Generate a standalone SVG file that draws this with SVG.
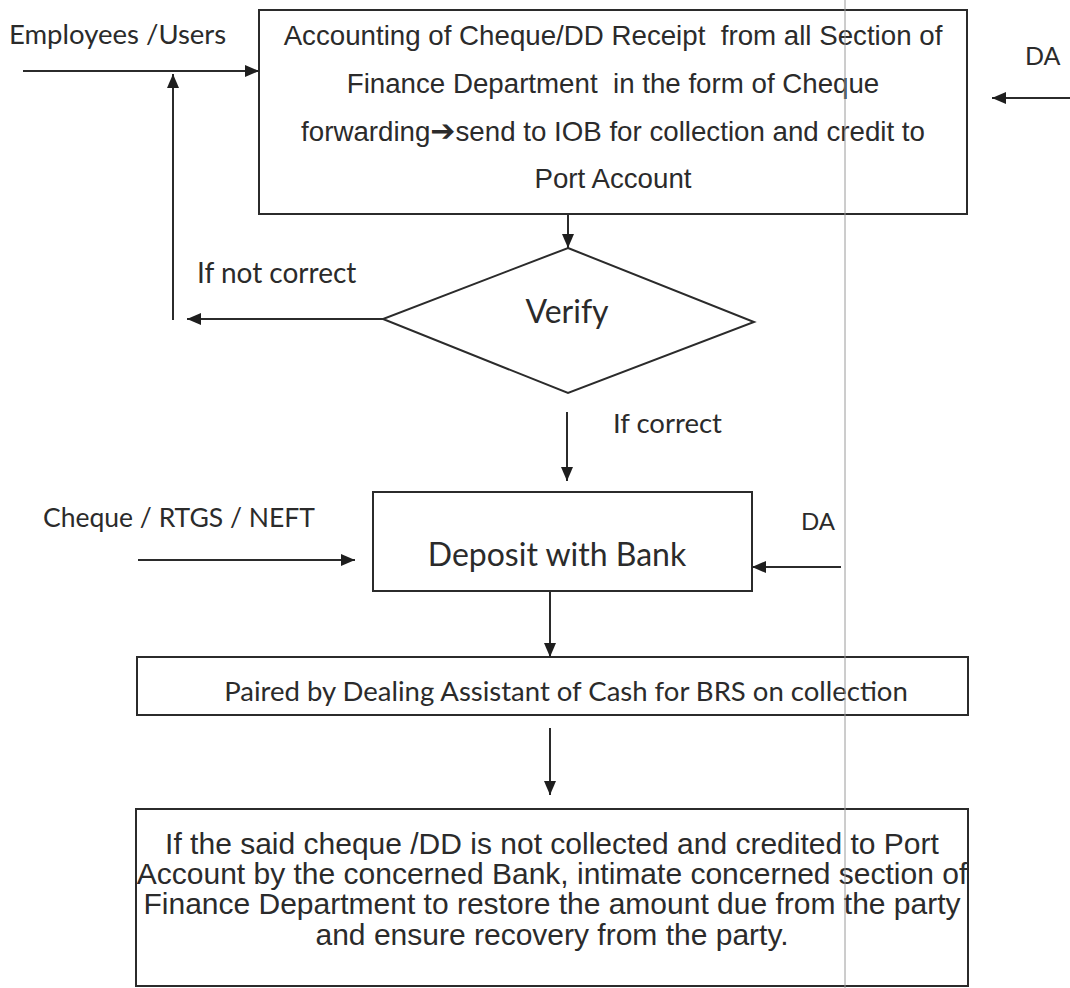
<svg xmlns="http://www.w3.org/2000/svg" width="1070" height="988" viewBox="0 0 1070 988">
  <style>
    .box { fill: #ffffff; stroke: #2b2b2b; stroke-width: 2; }
    .edge { fill: none; stroke: #2b2b2b; stroke-width: 2; }
    .arial { font-family: "Liberation Sans", Arial, sans-serif; fill: #2b2b2b; white-space: pre; }
    .cal { font-family: Lato, "Open Sans", sans-serif; fill: #2b2b2b; white-space: pre; }
    .mid { text-anchor: middle; }
  </style>
  <defs>
    <marker id="head" viewBox="0 0 14 12" refX="14" refY="6" markerWidth="14" markerHeight="12" markerUnits="userSpaceOnUse" orient="auto">
      <path d="M0,0 L14,6 L0,12 Z" fill="#1e1e1e"/>
    </marker>
  </defs>
  <rect width="1070" height="988" fill="#ffffff"/>

  <!-- free labels -->
  <text class="cal" x="9" y="44" font-size="27.5">Employees /Users</text>
  <text class="cal" x="1025" y="65" font-size="25">DA</text>
  <text class="cal" x="197" y="283" font-size="28">If not correct</text>
  <text class="cal" x="613" y="433" font-size="27.5">If correct</text>
  <text class="cal" x="43" y="527" font-size="26.5">Cheque / RTGS / NEFT</text>
  <text class="cal" x="801" y="530" font-size="24">DA</text>

  <g id="accounting">
    <rect class="box" x="259" y="10" width="708" height="204"/>
    <text class="arial mid" x="613" y="45" font-size="27.7">Accounting of Cheque/DD Receipt  from all Section of</text>
    <text class="arial mid" x="613" y="93" font-size="27.7">Finance Department  in the form of Cheque</text>
    <text class="arial mid" x="613" y="141" font-size="27.7">forwarding<tspan font-family="DejaVu Sans, sans-serif" font-size="30">➔</tspan>send to IOB for collection and credit to</text>
    <text class="arial mid" x="613" y="188" font-size="27.7">Port Account</text>
  </g>

  <g id="verify">
    <polygon class="box" points="568,248 754,322 568,393 383,319"/>
    <text class="cal mid" x="567" y="323" font-size="32">Verify</text>
  </g>

  <g id="deposit">
    <rect class="box" x="373" y="492" width="379" height="99"/>
    <text class="cal mid" x="557" y="566" font-size="32">Deposit with Bank</text>
  </g>

  <g id="paired">
    <rect class="box" x="137" y="657" width="831" height="58"/>
    <text class="cal mid" x="566" y="701" font-size="27.5">Paired by Dealing Assistant of Cash for BRS on collection</text>
  </g>

  <g id="recovery">
    <rect class="box" x="136" y="809" width="832" height="177"/>
    <text class="arial mid" x="552" y="854" font-size="30">If the said cheque /DD is not collected and credited to Port</text>
    <text class="arial mid" x="552" y="884" font-size="30">Account by the concerned Bank, intimate concerned section of</text>
    <text class="arial mid" x="552" y="914" font-size="30">Finance Department to restore the amount due from the party</text>
    <text class="arial mid" x="552" y="945" font-size="30">and ensure recovery from the party.</text>
  </g>

  <g id="connectors">
    <line class="edge" x1="23" y1="71" x2="259" y2="71" marker-end="url(#head)"/>
    <line class="edge" x1="173" y1="320" x2="173" y2="74" marker-end="url(#head)"/>
    <line class="edge" x1="1070" y1="98" x2="992" y2="98" marker-end="url(#head)"/>
    <line class="edge" x1="568" y1="214" x2="568" y2="248" marker-end="url(#head)"/>
    <line class="edge" x1="383" y1="319" x2="187" y2="319" marker-end="url(#head)"/>
    <line class="edge" x1="567" y1="412" x2="567" y2="481" marker-end="url(#head)"/>
    <line class="edge" x1="138" y1="560" x2="355" y2="560" marker-end="url(#head)"/>
    <line class="edge" x1="841" y1="567" x2="752" y2="567" marker-end="url(#head)"/>
    <line class="edge" x1="550" y1="591" x2="550" y2="657" marker-end="url(#head)"/>
    <line class="edge" x1="550" y1="728" x2="550" y2="795" marker-end="url(#head)"/>
  </g>

  <!-- page fold line running down the whole sheet, over the boxes -->
  <line x1="845" y1="0" x2="845" y2="988" stroke="#9a9a9a" stroke-width="1"/>
</svg>
